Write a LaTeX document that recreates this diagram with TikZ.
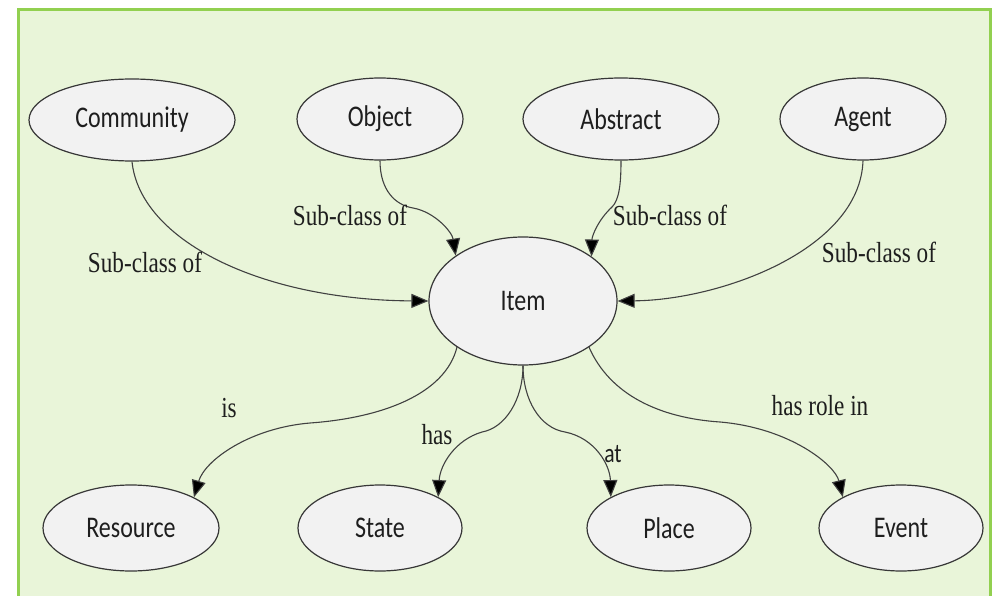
\documentclass[tikz,border=0pt]{standalone}
\usepackage{fontspec}
\usetikzlibrary{shapes.geometric,arrows.meta}
\newfontfamily\conceptfont[FakeStretch=0.8]{Carlito}
\newfontfamily\relfont[FakeStretch=0.8]{Liberation Serif}
\definecolor{panelbg}{RGB}{233,245,217}
\definecolor{panelframe}{RGB}{146,208,80}
\definecolor{conceptfill}{RGB}{242,242,242}
\definecolor{conceptline}{RGB}{55,55,55}
\definecolor{linkline}{RGB}{65,65,65}
\definecolor{inktext}{RGB}{30,30,30}
\tikzset{
  concept/.style={ellipse, draw=conceptline, fill=conceptfill, line width=1.2pt,
    inner sep=0pt, text=inktext,
    font=\conceptfont\fontsize{30}{31}\selectfont},
  link/.style={draw=linkline, line width=1.1pt,
    -{Triangle[length=17pt,width=14pt,fill=black]}},
  rellabel/.style={anchor=base, inner sep=0pt, text=inktext,
    font=\relfont\fontsize{29}{30}\selectfont},
  sanslabel/.style={anchor=base, inner sep=0pt, text=inktext,
    font=\conceptfont\fontsize{27}{28}\selectfont}
}
\begin{document}
\begin{tikzpicture}[x=1pt,y=-1pt]
\useasboundingbox (0,0) rectangle (992,596);
\fill[white] (0,0) rectangle (992,596);
\begin{scope}
  \clip (0,0) rectangle (992,596);
  \draw[panelframe, line width=3pt, fill=panelbg] (18,10) rectangle (990,640);
\end{scope}

% concepts
\node[concept, minimum width=206pt, minimum height=82pt] (comm) at (132,120) {Community};
\node[concept, minimum width=166pt, minimum height=82pt] (obj)  at (380,119) {Object};
\node[concept, minimum width=196pt, minimum height=82pt] (abs)  at (621,119) {Abstract};
\node[concept, minimum width=166pt, minimum height=82pt] (agt)  at (863,119) {Agent};
\node[concept, minimum width=188pt, minimum height=128pt] (item) at (523,301) {Item};
\node[concept, minimum width=176pt, minimum height=86pt] (res)  at (131,528) {Resource};
\node[concept, minimum width=164pt, minimum height=86pt] (state) at (380,528) {State};
\node[concept, minimum width=164pt, minimum height=86pt] (place) at (669,528) {Place};
\node[concept, minimum width=164pt, minimum height=86pt] (event) at (901,528) {Event};

% sub-class links into Item
\draw[link] (comm.south) .. controls (140,240) and (260,300) .. (item.west);
\draw[link] (obj.south) .. controls (380,190) and (395,205) .. (413,208)
  .. controls (435,212) and (452,232) .. (item.146);
\draw[link] (abs.south) .. controls (621,185) and (619,200) .. (612,207)
  .. controls (598,220) and (592,236) .. (item.33);
\draw[link] (agt.south) .. controls (860,250) and (720,300) .. (item.east);

% relations out of Item
\draw[link] (item.215) .. controls (445,395) and (380,418) .. (310,423)
  .. controls (250,428) and (205,460) .. (res.26);
\draw[link] (item.south) .. controls (523,400) and (505,428) .. (482,432)
  .. controls (455,440) and (440,465) .. (state.28);
\draw[link] (item.south) .. controls (523,400) and (540,428) .. (565,432)
  .. controls (595,438) and (610,465) .. (place.152);
\draw[link] (item.325) .. controls (610,395) and (660,418) .. (720,422)
  .. controls (790,428) and (835,465) .. (event.152);

% relation labels
\node[rellabel] (lcomm) at (145,272) {Sub-class of};
\node[rellabel] (lobj)  at (350,225) {Sub-class of};
\node[rellabel] (labs)  at (670,225) {Sub-class of};
\node[rellabel] (lagt)  at (879,262) {Sub-class of};
\node[rellabel] (lis)   at (229,417) {is};
\node[rellabel] (lhas)  at (437,444) {has};
\node[sanslabel] (lat)  at (613,462) {at};
\node[rellabel] (lrole) at (820,415) {has role in};
\end{tikzpicture}
\end{document}
